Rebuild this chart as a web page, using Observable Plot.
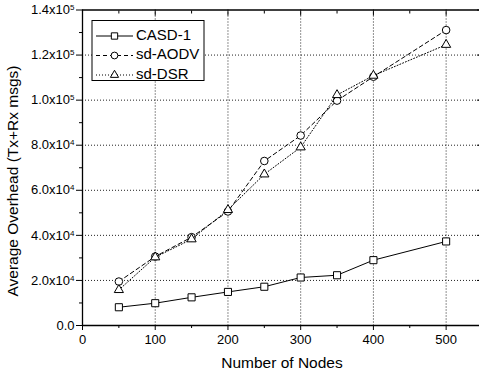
<!DOCTYPE html>
<html>
<head>
<meta charset="utf-8">
<script src="https://cdn.jsdelivr.net/npm/d3@7"></script>
<script src="https://cdn.jsdelivr.net/npm/@observablehq/plot@0.6"></script>
<style>
  html, body { margin: 0; padding: 0; background: #fff; }
  svg { display: block; }
</style>
</head>
<body>
<div id="chart"></div>
<script>
// Number of nodes in each simulation run
const nodes = [50, 100, 150, 200, 250, 300, 350, 400, 500];

// Average overhead (Tx+Rx messages) per protocol
const casd = [8100, 9900, 12500, 14900, 17200, 21300, 22300, 29000, 37300];
const sdAodv = [19500, 30600, 39200, 50600, 73000, 84300, 99800, 110400, 131100];
const sdDsr = [15800, 30300, 38300, 51300, 67100, 79100, 102300, 110900, 124600];

const seriesNames = ["CASD-1", "sd-AODV", "sd-DSR"];
const seriesValues = [casd, sdAodv, sdDsr];

// Axis ticks
const xMajor = [0, 100, 200, 300, 400, 500];
const xMinor = [50, 150, 250, 350, 450];
const yMajor = [0, 20000, 40000, 60000, 80000, 100000, 120000, 140000];
const yMinor = [10000, 30000, 50000, 70000, 90000, 110000, 130000];

const styles = [
  {dash: null, symbol: "square", r: 4},
  {dash: "4,3", symbol: "circle", r: 3.8},
  {dash: "1,2", symbol: "triangle", r: 3.4}
];

const rows = seriesNames.flatMap((name, i) =>
  nodes.map((n, j) => ({series: name, nodes: n, value: seriesValues[i][j]}))
);

const font = "'Liberation Sans', Arial, sans-serif";
const blank = () => "";

const lineMarks = seriesNames.flatMap((name, i) => {
  const data = rows.filter(d => d.series === name);
  return [
    Plot.line(data, {x: "nodes", y: "value", stroke: "black", strokeWidth: 1,
      strokeDasharray: styles[i].dash}),
    Plot.dot(data, {x: "nodes", y: "value", symbol: () => styles[i].symbol,
      r: styles[i].r, stroke: "black", strokeWidth: 1, fill: "white"})
  ];
});

const sci = v => {
  if (v === 0) return "0.0";
  const e = Math.floor(Math.log10(v));
  return `${(v / 10 ** e).toFixed(1)}x10^${e}`;
};

const chart = Plot.plot({
  width: 479,
  height: 379,
  marginLeft: 82,
  marginRight: -3,
  marginTop: 9.5,
  marginBottom: 54,
  style: {fontFamily: font, fontSize: "13px", color: "black", background: "white"},
  x: {domain: [0, 550]},
  y: {domain: [0, 140000]},
  marks: [
    Plot.gridX(xMajor.filter(v => v > 0), {stroke: "#222", strokeOpacity: 1, strokeDasharray: "1,2"}),
    Plot.gridY(yMajor.filter(v => v > 0 && v < 140000), {stroke: "#222", strokeOpacity: 1, strokeDasharray: "1,2"}),
    // bottom axis
    Plot.axisX({anchor: "bottom", ticks: xMajor, tickSize: 5, tickPadding: 4, label: null, fontSize: 13}),
    Plot.axisX({anchor: "bottom", ticks: xMinor, tickSize: 3, tickFormat: blank, label: null}),
    // top axis, ticks inward
    Plot.axisX({anchor: "top", ticks: xMajor, tickSize: -5, tickFormat: blank, label: null}),
    Plot.axisX({anchor: "top", ticks: xMinor, tickSize: -3, tickFormat: blank, label: null}),
    // left axis
    Plot.axisY({anchor: "left", ticks: yMajor, tickSize: 6, tickPadding: 2, label: null, fontSize: 13,
      tickFormat: sci}),
    Plot.axisY({anchor: "left", ticks: yMinor, tickSize: 3, tickFormat: blank, label: null}),
    // right axis, ticks inward
    Plot.axisY({anchor: "right", ticks: yMajor, tickSize: -6, tickFormat: blank, label: null}),
    Plot.axisY({anchor: "right", ticks: yMinor, tickSize: -3, tickFormat: blank, label: null}),
    // frame
    Plot.ruleY([0, 140000], {stroke: "black", strokeWidth: 1.3}),
    Plot.ruleX([0, 550], {stroke: "black", strokeWidth: 1.3}),
    ...lineMarks
  ]
});

document.getElementById("chart").appendChild(chart);

const svg = d3.select(chart);

// Tick labels: size, plus superscript exponents for scientific notation
svg.selectAll("text").each(function() {
  const t = d3.select(this);
  const s = t.text();
  if (s === "") return;
  t.attr("font-size", "13px").attr("font-family", font);
  const m = /^(.*)\^(\d+)$/.exec(s);
  if (!m) return;
  t.text(null);
  t.append("tspan").text(m[1]);
  t.append("tspan").attr("dy", "-0.5em").attr("font-size", "8px").text(m[2]);
});

// Axis titles
svg.append("text")
  .attr("transform", "translate(14,181) rotate(-90)")
  .attr("text-anchor", "middle")
  .attr("dominant-baseline", "middle")
  .attr("font-size", "15.5px")
  .attr("font-family", font)
  .text("Average Overhead (Tx+Rx msgs)");

svg.append("text")
  .attr("x", 282)
  .attr("y", 364)
  .attr("text-anchor", "middle")
  .attr("dominant-baseline", "middle")
  .attr("font-size", "15.5px")
  .attr("font-family", font)
  .text("Number of Nodes");

// Legend
const lg = svg.append("g").attr("text-anchor", "start");
lg.append("rect")
  .attr("x", 92).attr("y", 20.5).attr("width", 112).attr("height", 60)
  .attr("fill", "white").attr("stroke", "black").attr("stroke-width", 1);
seriesNames.forEach((name, i) => {
  const y = 36 + i * 19.5;
  lg.append("line")
    .attr("x1", 96).attr("x2", 133).attr("y1", y).attr("y2", y)
    .attr("stroke", "black").attr("stroke-width", 1)
    .attr("stroke-dasharray", styles[i].dash);
  const sym = {square: d3.symbolSquare, circle: d3.symbolCircle, triangle: d3.symbolTriangle}[styles[i].symbol];
  lg.append("path")
    .attr("transform", `translate(114.5,${y})`)
    .attr("d", d3.symbol(sym, Math.PI * styles[i].r * styles[i].r * 0.8)())
    .attr("fill", "white").attr("stroke", "black").attr("stroke-width", 1);
  lg.append("text")
    .attr("x", 136).attr("y", y)
    .attr("text-anchor", "start")
    .attr("dominant-baseline", "middle")
    .attr("font-size", "15px")
    .attr("font-family", font)
    .text(name);
});
</script>
</body>
</html>
